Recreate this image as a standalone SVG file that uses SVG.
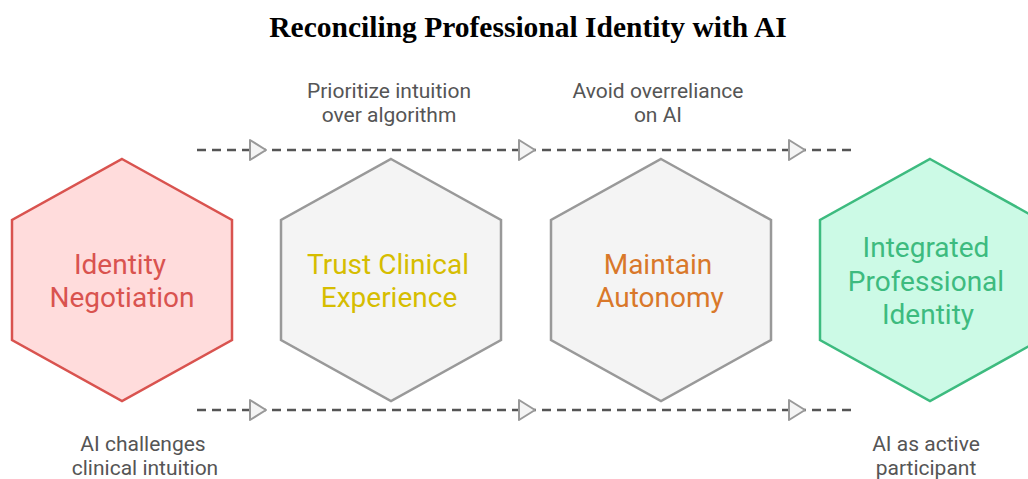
<svg xmlns="http://www.w3.org/2000/svg" width="1028" height="479" viewBox="0 0 1028 479">
  <defs>
    <style>
      .title { font-family: "Liberation Serif", serif; font-weight: bold; font-size: 29.5px; fill: #000; text-anchor: middle; }
      .note { font-family: Roboto, "Liberation Sans", sans-serif; font-size: 21px; fill: #555; text-anchor: middle; }
      .label { font-family: Roboto, "Liberation Sans", sans-serif; font-size: 28px; text-anchor: middle; }
      .hex { stroke-width: 2.5; stroke-linejoin: miter; }
      .flow { stroke: #555; stroke-width: 2.5; stroke-dasharray: 9 6; fill: none; }
      .tip { fill: #f4f4f4; stroke: #999; stroke-width: 2; stroke-linejoin: round; }
    </style>
    <polygon id="hexShape" points="0,-121 110,-60 110,60 0,121 -110,60 -110,-60"/>
    <polygon id="tipShape" points="-8,-10 8,0 -8,10"/>
  </defs>

  <rect width="1028" height="479" fill="#fff"/>

  <text class="title" x="528" y="37">Reconciling Professional Identity with AI</text>

  <!-- dashed flow lines with open arrowheads -->
  <g id="connectors">
    <line class="flow" x1="197" y1="150" x2="856" y2="150"/>
    <line class="flow" x1="197" y1="410" x2="856" y2="410"/>
    <use href="#tipShape" class="tip" x="258" y="150"/>
    <use href="#tipShape" class="tip" x="527" y="150"/>
    <use href="#tipShape" class="tip" x="797" y="150"/>
    <use href="#tipShape" class="tip" x="258" y="410"/>
    <use href="#tipShape" class="tip" x="527" y="410"/>
    <use href="#tipShape" class="tip" x="797" y="410"/>
  </g>

  <g id="node-identity-negotiation">
    <use href="#hexShape" class="hex" x="122" y="280" fill="#ffdcdc" stroke="#d9534f"/>
    <text class="label" fill="#d9534f"><tspan x="120" y="274">Identity</tspan><tspan x="122" y="307">Negotiation</tspan></text>
  </g>

  <g id="node-trust-clinical-experience">
    <use href="#hexShape" class="hex" x="391" y="280" fill="#f4f4f4" stroke="#999"/>
    <text class="label" fill="#d6bd00"><tspan x="388" y="274">Trust Clinical</tspan><tspan x="389" y="307">Experience</tspan></text>
  </g>

  <g id="node-maintain-autonomy">
    <use href="#hexShape" class="hex" x="661" y="280" fill="#f4f4f4" stroke="#999"/>
    <text class="label" fill="#d9782a"><tspan x="658" y="274">Maintain</tspan><tspan x="660" y="307">Autonomy</tspan></text>
  </g>

  <g id="node-integrated-professional-identity">
    <use href="#hexShape" class="hex" x="930" y="280" fill="#ccfae6" stroke="#3dbb7f"/>
    <text class="label" fill="#3dbb7f"><tspan x="926" y="257">Integrated</tspan><tspan x="926" y="291">Professional</tspan><tspan x="928" y="324">Identity</tspan></text>
  </g>

  <g id="notes">
    <text class="note"><tspan x="389" y="98">Prioritize intuition</tspan><tspan x="389" y="122">over algorithm</tspan></text>
    <text class="note"><tspan x="658" y="98">Avoid overreliance</tspan><tspan x="658" y="122">on AI</tspan></text>
    <text class="note"><tspan x="143" y="451">AI challenges</tspan><tspan x="145" y="475">clinical intuition</tspan></text>
    <text class="note"><tspan x="926" y="451">AI as active</tspan><tspan x="926" y="475">participant</tspan></text>
  </g>
</svg>
